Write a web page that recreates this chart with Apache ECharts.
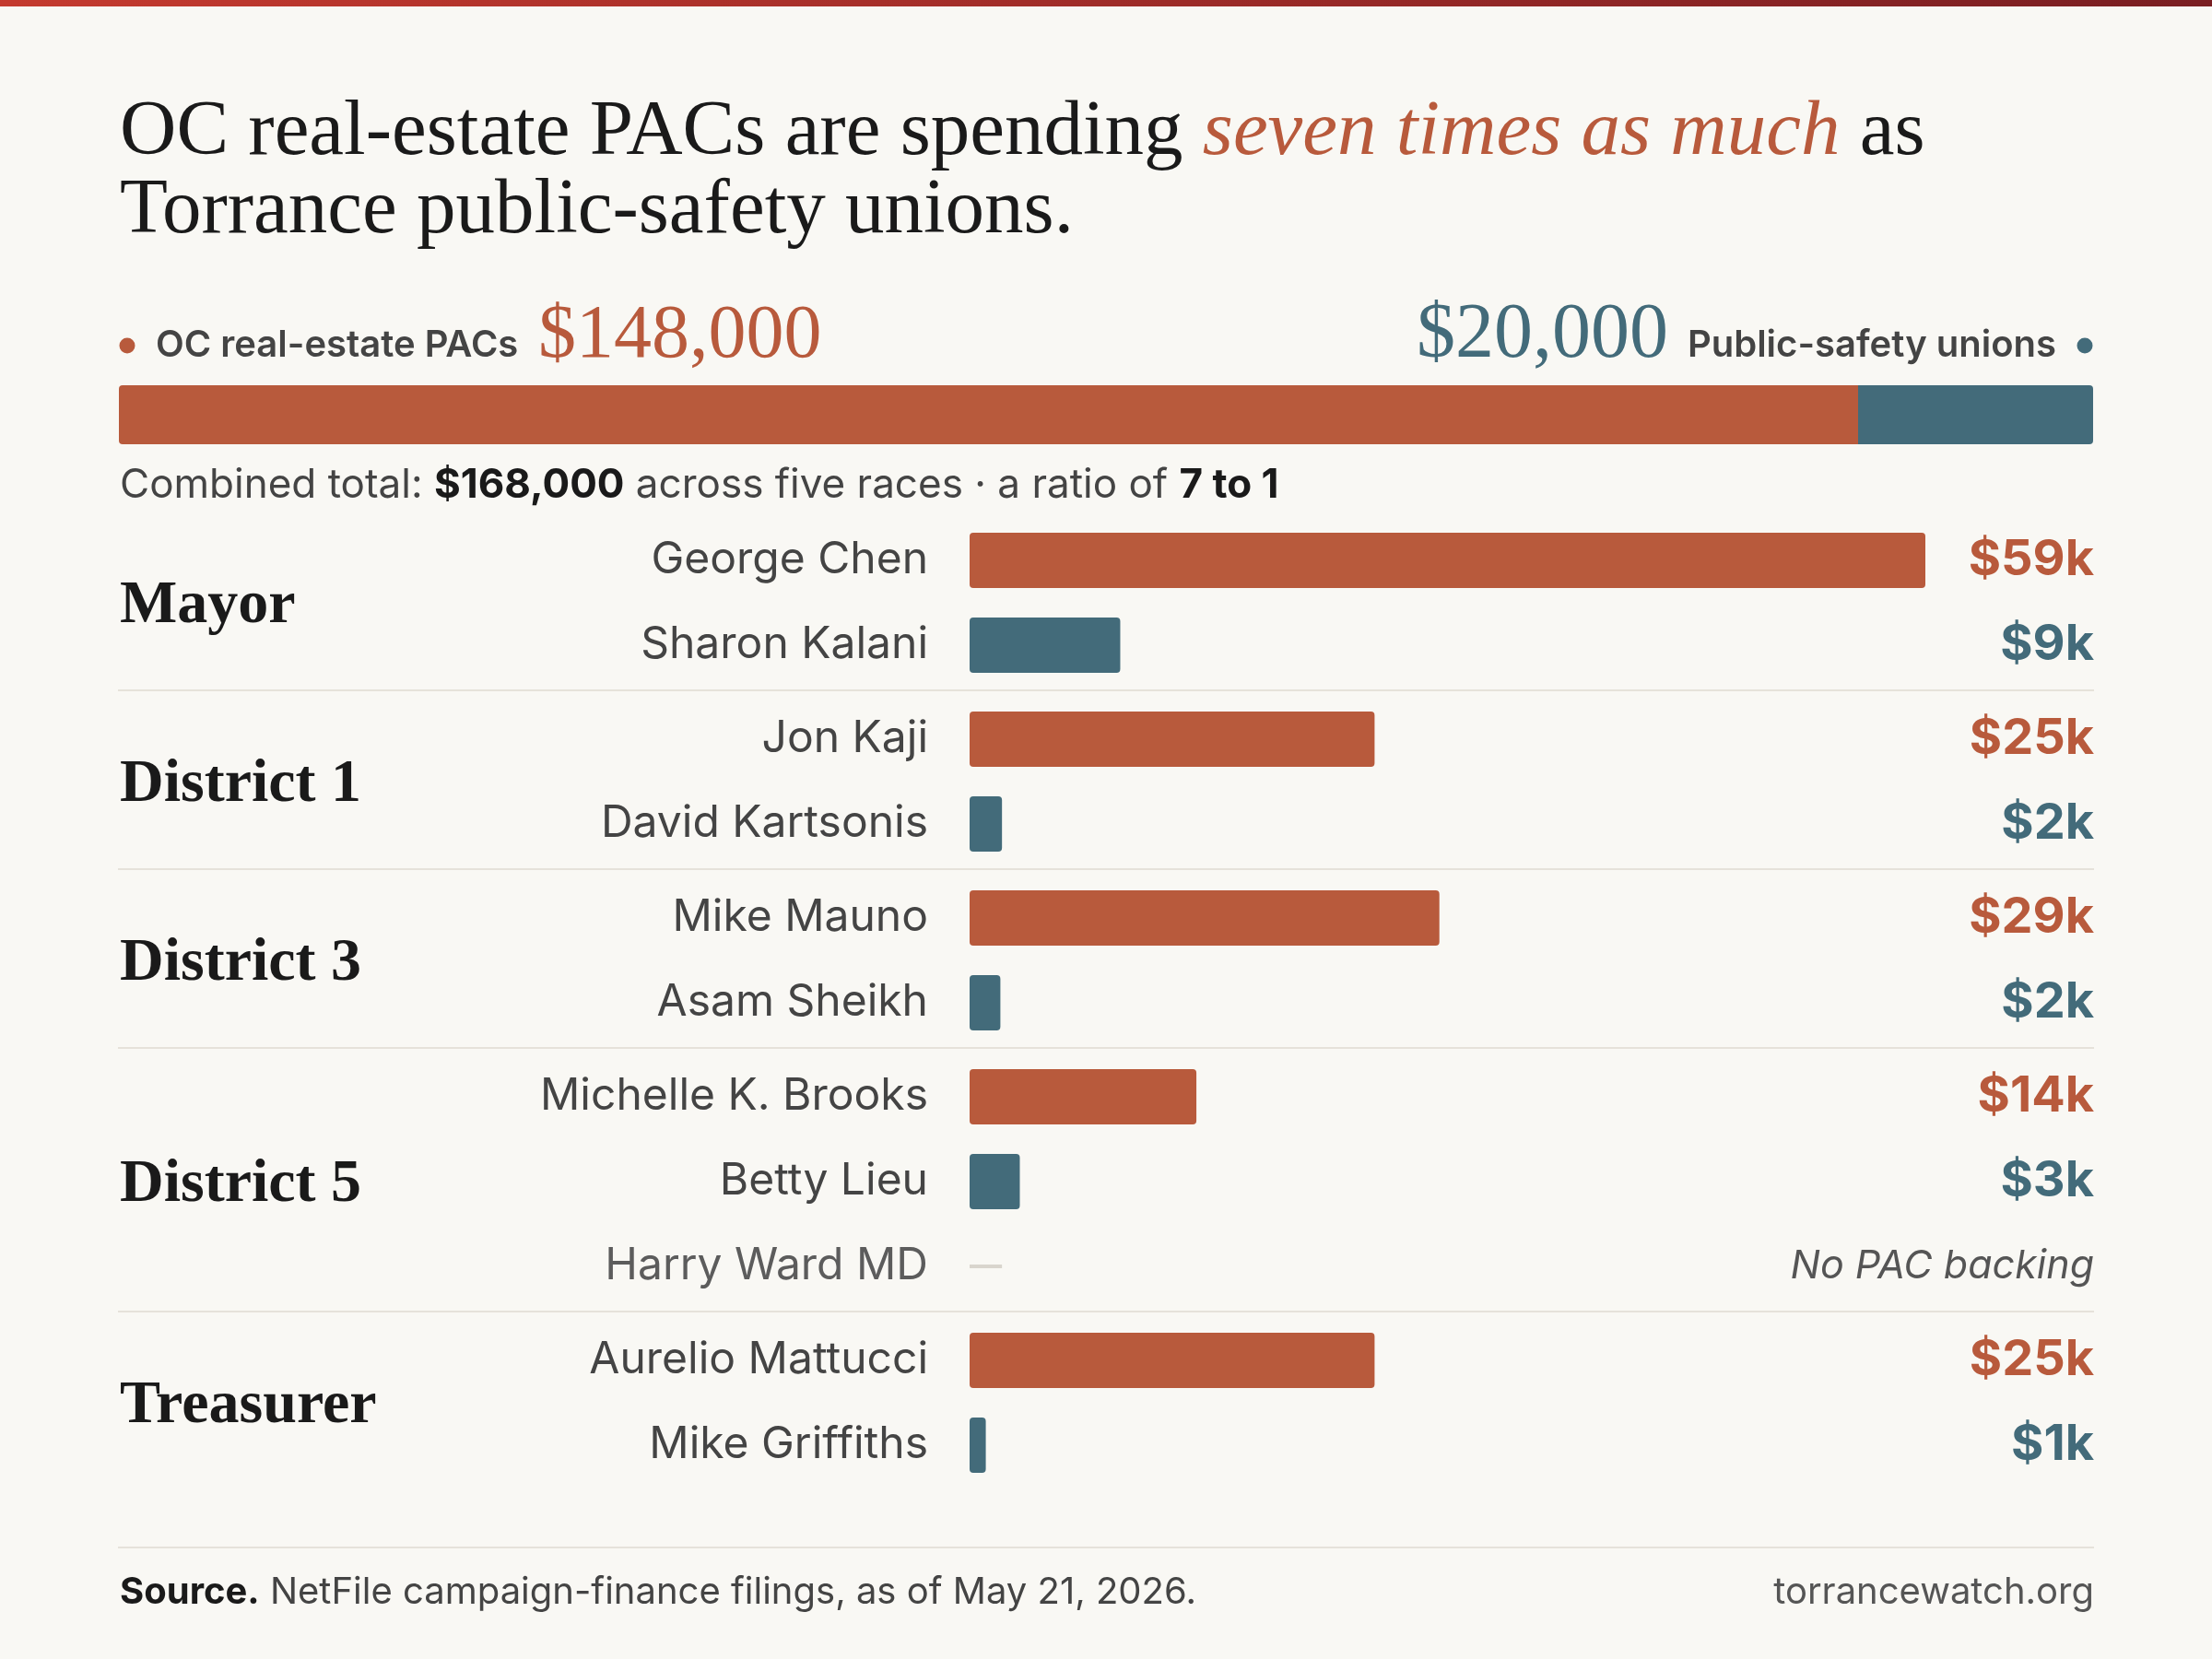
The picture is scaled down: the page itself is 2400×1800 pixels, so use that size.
<!DOCTYPE html>
<html>
<head>
<meta charset="utf-8">
<title>OC real-estate PACs vs Torrance public-safety unions</title>
<script src="https://cdn.jsdelivr.net/npm/echarts@6/dist/echarts.min.js"></script>
<style>
html,body{margin:0;padding:0;background:#f9f8f4;}
#main{width:2400px;height:1800px;}
</style>
</head>
<body>
<div id="main"></div>
<script>
// spending per candidate, in $ thousands (null = no PAC backing)
var races = ['Mayor', 'District 1', 'District 3', 'District 5', 'Treasurer'];
var candidates = [
	['George Chen', 'Sharon Kalani'],
	['Jon Kaji', 'David Kartsonis'],
	['Mike Mauno', 'Asam Sheikh'],
	['Michelle K. Brooks', 'Betty Lieu', 'Harry Ward MD'],
	['Aurelio Mattucci', 'Mike Griffiths']
];
var backers = [
	['pac', 'union'],
	['pac', 'union'],
	['pac', 'union'],
	['pac', 'union', null],
	['pac', 'union']
];
var amounts = [
	[59, 9.3],
	[25, 2.0],
	[29, 1.9],
	[14, 3.1, null],
	[25, 1.0]
];
var totalNames = ['OC real-estate PACs', 'Public-safety unions'];
var totals = [148000, 20000];

var PAC = '#b85a3c', UNION = '#436b7a';
var SERIF = "'Liberation Serif', serif", SANS = "Inter, sans-serif";
var ROW_H = 92, GAP = 10, TOP0 = 562, LEFT = 1052, PLOT_W = 1037, RIGHT_EDGE = 2272;
var DASH_K = 2; // length of the grey "no backing" dash, in axis units

function money(n){
	return '$' + String(n).replace(/\B(?=(\d{3})+(?!\d))/g, ',');
}

var maxK = 0;
amounts.forEach(function(a){ a.forEach(function(v){ if (v != null && v > maxK) maxK = v; }); });

var grids = [], xAxes = [], yAxes = [], series = [], graphics = [];

// top strip
graphics.push({type:'rect', shape:{x:0, y:0, width:2400, height:7}, style:{fill:new echarts.graphic.LinearGradient(0,0,1,0,[{offset:0,color:'#c43a2f'},{offset:1,color:'#7a1e22'}])}});

// headline
graphics.push({type:'text', x:130, y:145, style:{
	text:'{a|OC real-estate PACs are spending }{b|seven times as much}{a| as}',
	verticalAlign:'middle',
	rich:{
		a:{fontFamily:SERIF, fontSize:85, fill:'#1a1a1a'},
		b:{fontFamily:SERIF, fontSize:85, fontStyle:'italic', fill:PAC}
	}
}});
graphics.push({type:'text', x:130, y:230, style:{text:'Torrance public-safety unions.', fontFamily:SERIF, fontSize:85, fill:'#1a1a1a', verticalAlign:'middle'}});

// totals legend
graphics.push({type:'circle', shape:{cx:138, cy:375, r:8.5}, style:{fill:PAC}});
graphics.push({type:'text', x:169, y:375, style:{text:totalNames[0], fontFamily:SANS, fontWeight:600, fontSize:40, fill:'#444', verticalAlign:'middle'}});
graphics.push({type:'text', x:584, y:365, style:{text:money(totals[0]), fontFamily:SERIF, fontSize:82, fill:PAC, verticalAlign:'middle'}});
graphics.push({type:'circle', shape:{cx:2262, cy:375, r:8.5}, style:{fill:UNION}});
graphics.push({type:'text', x:2231, y:375, style:{text:totalNames[1], fontFamily:SANS, fontWeight:600, fontSize:40, fill:'#444', align:'right', verticalAlign:'middle'}});
graphics.push({type:'text', x:1810, y:365, style:{text:money(totals[1]), fontFamily:SERIF, fontSize:84, fill:UNION, align:'right', verticalAlign:'middle'}});

var combined = totals[0] + totals[1];
graphics.push({type:'text', x:130, y:527, style:{
	text:'{n|Combined total: }{b|' + money(combined) + '}{n| across five races · a ratio of }{b|' + Math.round(totals[0] / totals[1]) + ' to 1}',
	verticalAlign:'middle',
	rich:{
		n:{fontFamily:SANS, fontSize:44, fill:'#444'},
		b:{fontFamily:SANS, fontSize:44, fontWeight:700, fill:'#1a1a1a'}
	}
}});

// race blocks, one grid each
var rowTop = TOP0;
races.forEach(function(race, i){
	var n = candidates[i].length;
	var h = n * ROW_H;
	grids.push({left:LEFT, top:rowTop, width:PLOT_W, height:h});
	xAxes.push({gridIndex:i, type:'value', min:0, max:maxK, show:false});
	yAxes.push({
		gridIndex:i, type:'category', data:candidates[i], inverse:true,
		axisLine:{show:false}, axisTick:{show:false},
		axisLabel:{
			interval:0, margin:45,
			formatter:function(v, idx){
				return amounts[i][idx] == null ? '{m|' + v + '}' : '{n|' + v + '}';
			},
			rich:{
				n:{fontFamily:SANS, fontSize:48, color:'#444'},
				m:{fontFamily:SANS, fontSize:48, color:'#5c5c5c'}
			}
		}
	});
	yAxes.push({
		gridIndex:i, type:'category', data:candidates[i], inverse:true, position:'right',
		axisLine:{show:false}, axisTick:{show:false},
		axisLabel:{
			interval:0, margin:RIGHT_EDGE - LEFT - PLOT_W, align:'right',
			formatter:function(v, idx){
				var k = amounts[i][idx];
				if (k == null) return '{none|No PAC backing}';
				return '{' + backers[i][idx] + '|$' + Math.round(k) + 'k}';
			},
			rich:{
				pac:{fontFamily:SANS, fontSize:54, fontWeight:700, color:PAC},
				union:{fontFamily:SANS, fontSize:54, fontWeight:700, color:UNION},
				none:{fontFamily:SANS, fontSize:43, fontStyle:'italic', color:'#555'}
			}
		}
	});
	series.push({
		type:'bar', xAxisIndex:i, yAxisIndex:i * 2, barWidth:60,
		data:amounts[i].map(function(v, idx){
			return {value:v, itemStyle:{color:backers[i][idx] === 'pac' ? PAC : UNION, borderRadius:4}};
		})
	});
	var hasNone = amounts[i].some(function(v){ return v == null; });
	if (hasNone) {
		series.push({
			type:'bar', xAxisIndex:i, yAxisIndex:i * 2 + 1, barWidth:4, silent:true,
			itemStyle:{color:'#d9d5cd'},
			data:amounts[i].map(function(v){ return v == null ? DASH_K : null; })
		});
	}
	graphics.push({type:'text', x:130, y:rowTop + h / 2 + 4, style:{text:race, fontFamily:SERIF, fontSize:66, fontWeight:'bold', fill:'#1a1a1a', verticalAlign:'middle'}});
	if (i < races.length - 1) {
		graphics.push({type:'line', shape:{x1:128, y1:rowTop + h + 3, x2:RIGHT_EDGE, y2:rowTop + h + 3}, style:{stroke:'#e6e2da', lineWidth:2}});
	}
	rowTop += h + GAP;
});

// combined stacked bar
var gi = races.length;
grids.push({left:129, top:418, width:2142, height:64});
xAxes.push({gridIndex:gi, type:'value', min:0, max:combined, show:false});
yAxes.push({gridIndex:gi, type:'category', data:['total'], show:false});
series.push({type:'bar', name:totalNames[0], stack:'t', xAxisIndex:gi, yAxisIndex:yAxes.length - 1, barWidth:64,
	data:[{value:totals[0], itemStyle:{color:PAC, borderRadius:[4,0,0,4]}}]});
series.push({type:'bar', name:totalNames[1], stack:'t', xAxisIndex:gi, yAxisIndex:yAxes.length - 1, barWidth:64,
	data:[{value:totals[1], itemStyle:{color:UNION, borderRadius:[0,4,4,0]}}]});

// footer
graphics.push({type:'line', shape:{x1:128, y1:1679, x2:RIGHT_EDGE, y2:1679}, style:{stroke:'#e6e2da', lineWidth:2}});
graphics.push({type:'text', x:130, y:1728, style:{
	text:'{b|Source.}{n| NetFile campaign-finance filings, as of May 21, 2026.}',
	verticalAlign:'middle',
	rich:{
		b:{fontFamily:SANS, fontSize:40, fontWeight:700, fill:'#1a1a1a'},
		n:{fontFamily:SANS, fontSize:40, fill:'#444'}
	}
}});
graphics.push({type:'text', x:RIGHT_EDGE, y:1728, style:{text:'torrancewatch.org', fontFamily:SANS, fontSize:40, fill:'#555', align:'right', verticalAlign:'middle'}});

var myChart = echarts.init(document.getElementById('main'), null, {renderer:'canvas'});
myChart.setOption({
	backgroundColor:'#f9f8f4',
	animation:false,
	grid:grids,
	xAxis:xAxes,
	yAxis:yAxes,
	series:series,
	graphic:graphics
});
</script>
</body>
</html>
